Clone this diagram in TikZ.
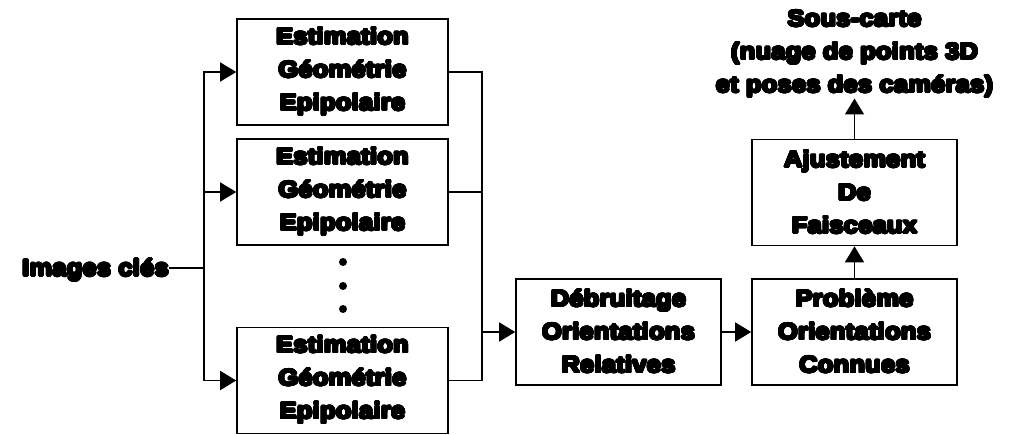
\documentclass[tikz,border=0pt]{standalone}
\usepackage{fontspec}
\setmainfont{Liberation Sans}[BoldFeatures={FakeStretch=1.1,LetterSpace=1.5}]
\usepackage{contour}
\contourlength{1.1pt}
\contournumber{24}
\newcommand{\hv}[1]{\contour{black}{#1}}
\usetikzlibrary{arrows.meta}
\begin{document}
\begin{tikzpicture}[x=1pt,y=-1pt,
  txt/.style={font=\fontsize{23}{33}\selectfont\bfseries},
  box/.style={txt, draw, line width=1.6pt, minimum width=211pt, minimum height=106pt, inner sep=0pt, align=center},
  sbox/.style={box, minimum width=205pt},
  lbl/.style={txt, inner sep=0pt, align=center},
  ln/.style={line width=1.7pt},
  arr/.style={ln, -{Triangle[length=16pt,width=19pt]}},
  dot/.style={circle, fill, inner sep=0pt, minimum size=8pt}]
\useasboundingbox (0,0) rectangle (1016,435);

\node[box] (e1) at (342.5,72) {\hv{Estimation}\\\hv{Géométrie}\\\hv{Epipolaire}};
\node[box] (e2) at (342.5,192) {\hv{Estimation}\\\hv{Géométrie}\\\hv{Epipolaire}};
\node[box] (e3) at (342.5,380.5) {\hv{Estimation}\\\hv{Géométrie}\\\hv{Epipolaire}};
\node[dot] (d1) at (343,262) {};
\node[dot] (d2) at (343,286) {};
\node[dot] (d3) at (343,309) {};

\node[lbl, anchor=base east] (img) at (169,276) {\hv{Images clés}};
\coordinate (split) at (204,268);
\coordinate (merge) at (482,332);

\node[sbox] (deb) at (618.5,332) {\hv{Débruitage}\\\hv{Orientations}\\\hv{Relatives}};
\node[sbox] (prob) at (854.5,332) {\hv{Problème}\\\hv{Orientations}\\\hv{Connues}};
\node[sbox] (ajust) at (854.5,192.5) {\hv{Ajustement}\\\hv{De}\\\hv{Faisceaux}};
\node[lbl, anchor=south] (sous) at (854.5,98.5) {\hv{Sous-carte}\\\hv{(nuage de points 3D}\\\hv{et poses des caméras)}};

\draw[ln] (img.east |- split) -- (split);
\draw[arr] (split) |- (e1.west);
\draw[arr] (split) |- (e3.west);
\draw[arr] (split |- e2.west) -- (e2.west);

\draw[ln] (e1.east) -| (e3.east -| merge) -- (e3.east);
\draw[ln] (e2.east) -- (e2.east -| merge);
\draw[arr] (merge) -- (deb.west);
\draw[arr] (deb) -- (prob);
\draw[arr] (prob) -- (ajust);
\draw[arr] (ajust) -- (sous.south);
\end{tikzpicture}
\end{document}
